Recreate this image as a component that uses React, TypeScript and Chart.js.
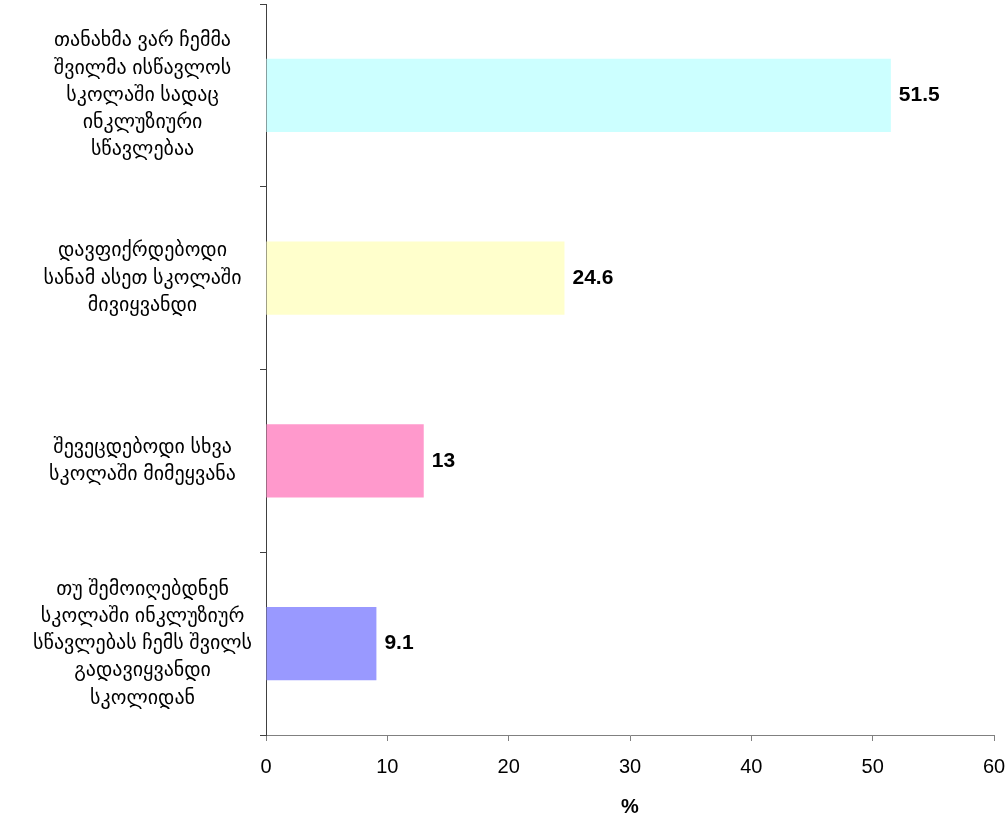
import React, { useEffect, useRef } from "react";
import { Chart, registerables } from "chart.js";

Chart.register(...registerables);

const categories: string[][] = [
  ["თანახმა ვარ ჩემმა", "შვილმა ისწავლოს", "სკოლაში სადაც", "ინკლუზიური", "სწავლებაა"],
  ["დავფიქრდებოდი", "სანამ ასეთ სკოლაში", "მივიყვანდი"],
  ["შევეცდებოდი სხვა", "სკოლაში მიმეყვანა"],
  ["თუ შემოიღებდნენ", "სკოლაში ინკლუზიურ", "სწავლებას ჩემს შვილს", "გადავიყვანდი", "სკოლიდან"],
];
const values: number[] = [51.5, 24.6, 13, 9.1];
const valueLabels: string[] = ["51.5", "24.6", "13", "9.1"];
const barColors: string[] = ["#CCFFFF", "#FFFFCC", "#FF99CC", "#9999FF"];
const xTitle = "%";

const FONT = "Arial, 'Liberation Sans', 'DejaVu Sans', sans-serif";

const valueLabelPlugin = {
  id: "valueLabels",
  afterDatasetsDraw(chart: any) {
    const ctx = chart.ctx;
    const meta = chart.getDatasetMeta(0);
    ctx.save();
    ctx.font = `bold 21px ${FONT}`;
    ctx.fillStyle = "#000";
    ctx.textAlign = "left";
    ctx.textBaseline = "middle";
    meta.data.forEach((el: any, i: number) => {
      ctx.fillText(valueLabels[i], el.x + 8, el.y);
    });
    ctx.restore();
  },
};

export default function App() {
  const ref = useRef<HTMLCanvasElement | null>(null);
  useEffect(() => {
    if (!ref.current) return;
    const chart = new Chart(ref.current, {
      type: "bar",
      data: {
        labels: categories,
        datasets: [
          {
            data: values,
            backgroundColor: barColors,
            borderWidth: 0,
            barPercentage: 0.4,
            categoryPercentage: 1,
          },
        ],
      },
      options: {
        indexAxis: "y",
        animation: false,
        responsive: false,
        maintainAspectRatio: false,
        layout: { padding: { top: 4, right: 14, left: 0, bottom: 0 } },
        plugins: {
          legend: { display: false },
          tooltip: { enabled: false },
        },
        scales: {
          x: {
            min: 0,
            max: 60,
            ticks: {
              stepSize: 10,
              color: "#000",
              font: { family: FONT, size: 20 },
              padding: 14,
              maxRotation: 0,
            },
            grid: {
              drawOnChartArea: false,
              drawTicks: true,
              tickLength: 6,
              color: "#808080",
            },
            border: { display: true, color: "#808080", width: 1 },
            title: {
              display: true,
              text: xTitle,
              color: "#000",
              font: { family: FONT, size: 20, weight: "bold" },
              padding: { top: 7, bottom: 0 },
            },
            afterFit(scale: any) {
              scale.height = 84;
              scale.paddingLeft = 0;
              scale.paddingRight = 0;
            },
          },
          y: {
            ticks: {
              color: "#000",
              font: { family: FONT, size: 20, lineHeight: 1.36 },
              crossAlign: "center",
              padding: 8,
            },
            grid: {
              offset: true,
              drawOnChartArea: false,
              drawTicks: true,
              tickLength: 6,
              color: "#404040",
            },
            border: { display: true, color: "#404040", width: 1 },
            afterFit(scale: any) {
              scale.width = 266;
              scale.paddingTop = 0;
              scale.paddingBottom = 0;
            },
          },
        },
      },
      plugins: [valueLabelPlugin],
    });
    return () => chart.destroy();
  }, []);
  return (
    <div style={{ position: "fixed", left: 0, top: 0, width: 1008, height: 819, background: "#fff" }}>
      <canvas ref={ref} width={1008} height={819} style={{ display: "block" }} />
    </div>
  );
}
